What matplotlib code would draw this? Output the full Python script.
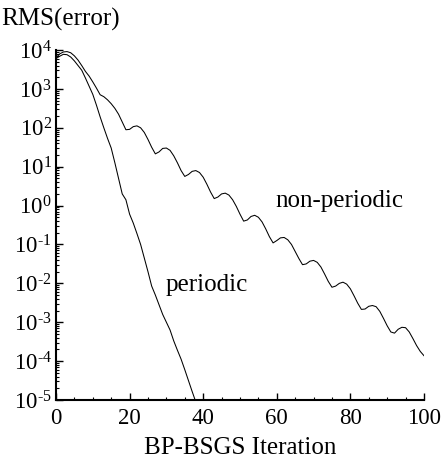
import numpy as np
import matplotlib
matplotlib.use("Agg")
import matplotlib.pyplot as plt
from matplotlib.ticker import LogLocator, MultipleLocator, NullFormatter, FuncFormatter

plt.rcParams['font.family'] = ['Liberation Serif', 'DejaVu Serif']
plt.rcParams['mathtext.fontset'] = 'custom'
plt.rcParams['mathtext.rm'] = 'Liberation Serif'
plt.rcParams['mathtext.it'] = 'Liberation Serif:italic'

# ---- data (log10 of RMS error) ----
iter_nonper = np.arange(0, 101)
log_nonper = [
    3.80, 3.90, 3.95, 3.96, 3.93, 3.85, 3.74, 3.60, 3.45, 3.33,
    3.18, 3.02, 2.85, 2.80, 2.72, 2.62, 2.50, 2.35, 2.15, 1.95,
    1.96, 2.03, 2.05, 2.00, 1.88, 1.70, 1.50, 1.33, 1.38, 1.47,
    1.48, 1.42, 1.28, 1.10, 0.90, 0.75, 0.80, 0.88, 0.90, 0.85,
    0.73, 0.55, 0.35, 0.18, 0.22, 0.30, 0.32, 0.27, 0.15, -0.02,
    -0.22, -0.40, -0.37, -0.28, -0.25, -0.30, -0.42, -0.60, -0.80, -0.96,
    -0.90, -0.83, -0.82, -0.88, -1.00, -1.18, -1.36, -1.52, -1.50, -1.43,
    -1.41, -1.46, -1.58, -1.76, -1.95, -2.10, -2.07, -2.00, -1.97, -2.02,
    -2.14, -2.32, -2.51, -2.67, -2.66, -2.59, -2.57, -2.60, -2.72, -2.90,
    -3.09, -3.25, -3.28, -3.18, -3.13, -3.14, -3.25, -3.42, -3.60, -3.75,
    -3.86,
]

iter_per = np.arange(0, 39)
log_per = [
    3.78, 3.84, 3.89, 3.88, 3.82, 3.72, 3.60, 3.48, 3.28, 3.07,
    2.86, 2.58, 2.28, 2.00, 1.73, 1.48, 1.10, 0.70, 0.30, 0.15,
    -0.22, -0.45, -0.72, -1.00, -1.35, -1.70, -2.07, -2.30, -2.55, -2.80,
    -3.00, -3.20, -3.48, -3.72, -3.95, -4.22, -4.50, -4.78, -5.05,
]


def decade_label(v, pos):
    # 10^n with a plain hyphen for negative exponents, like the original
    n = int(round(np.log10(v)))
    s = str(abs(n))
    if n < 0:
        s = r'\text{-}' + s
    return r'$10^{%s}$' % s


fig = plt.figure(figsize=(4.43, 4.59), dpi=100)
ax = fig.add_axes([0.1264, 0.1285, 0.8306, 0.7625])

ax.plot(iter_nonper, 10.0 ** np.array(log_nonper), color='black', lw=0.75)
ax.plot(iter_per, 10.0 ** np.array(log_per), color='black', lw=0.75)

ax.set_yscale('log')
ax.set_xlim(0, 100)
ax.set_ylim(1e-5, 1e4)

ax.xaxis.set_major_locator(MultipleLocator(20))
ax.xaxis.set_minor_locator(MultipleLocator(5))
ax.yaxis.set_major_locator(LogLocator(base=10, numticks=20))
ax.yaxis.set_major_formatter(FuncFormatter(decade_label))
ax.yaxis.set_minor_locator(LogLocator(base=10, subs=np.arange(2, 10), numticks=20))
ax.yaxis.set_minor_formatter(NullFormatter())

ax.spines['top'].set_visible(False)
ax.spines['right'].set_visible(False)
ax.spines['left'].set_linewidth(1.5)
ax.spines['bottom'].set_linewidth(1.5)
ax.tick_params(which='major', direction='in', length=5, width=1.0, labelsize=16.5)
ax.tick_params(axis='x', which='major', pad=5.5)
ax.tick_params(axis='y', which='major', pad=3)
ax.tick_params(which='minor', direction='in', length=2.5, width=0.8)

ax.set_xlabel('BP-BSGS Iteration', fontsize=18, labelpad=6)
fig.text(0.003, 0.958, 'RMS(error)', fontsize=18, ha='left', va='center')

ax.text(77, 10 ** 0.12, 'non-periodic', fontsize=18, ha='center', va='center')
ax.text(41, 10 ** -2.03, 'periodic', fontsize=18, ha='center', va='center')

fig.savefig('out.png', dpi=100)
